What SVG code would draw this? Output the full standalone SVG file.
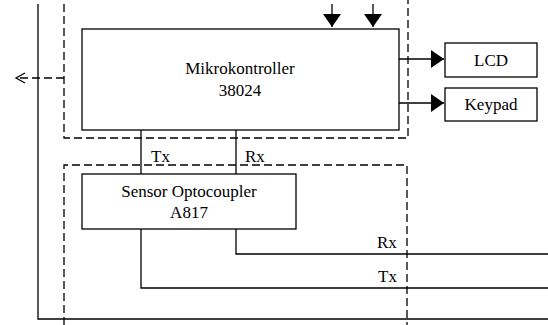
<svg xmlns="http://www.w3.org/2000/svg" width="548" height="325" viewBox="0 0 548 325">
<defs>
<style>
.box{fill:#fff;stroke:#000;stroke-width:1.3}
.ln{fill:none;stroke:#000;stroke-width:1.3}
.dash{fill:none;stroke:#000;stroke-width:1.3;stroke-dasharray:8 4}
text{font-family:'Liberation Serif','Times New Roman',serif;font-size:17px;fill:#000}
.t{text-anchor:middle}
</style>
<marker id="fa" markerWidth="14" markerHeight="20" refX="13" refY="10" orient="auto" markerUnits="userSpaceOnUse">
<path d="M0,1 L13,10 L0,19 Z" fill="#000"/>
</marker>
</defs>
<g id="frames">
<path class="dash" d="M64,4 V138 H408 V0"/>
<path class="dash" d="M64,325 V165 H407 V325"/>
</g>
<g id="connectors">
<path class="ln" d="M38,4 V319 H548"/>
<path class="dash" d="M64,78 H16"/>
<path class="ln" d="M25,73 L16,78 L25,83"/>
<path class="ln" d="M332,4 V27" marker-end="url(#fa)"/>
<path class="ln" d="M373,4 V27" marker-end="url(#fa)"/>
<path class="ln" d="M399,59 H444" marker-end="url(#fa)"/>
<path class="ln" d="M399,103 H444" marker-end="url(#fa)"/>
<path class="ln" d="M141,130 V174"/>
<path class="ln" d="M236,130 V174"/>
<path class="ln" d="M236,229 V254 H548"/>
<path class="ln" d="M141,229 V288 H548"/>
<text x="151" y="162">Tx</text>
<text x="245" y="162">Rx</text>
<text x="377" y="248">Rx</text>
<text x="378" y="282">Tx</text>
</g>
<g id="mikrokontroller">
<rect class="box" x="82" y="29" width="317" height="101"/>
<text class="t" x="240" y="74">Mikrokontroller</text>
<text class="t" x="240" y="96">38024</text>
</g>
<g id="lcd">
<rect class="box" x="445" y="43" width="92" height="34"/>
<text class="t" x="491" y="66">LCD</text>
</g>
<g id="keypad">
<rect class="box" x="445" y="88" width="92" height="33"/>
<text class="t" x="491" y="110">Keypad</text>
</g>
<g id="sensor">
<rect class="box" x="82" y="174" width="214" height="55"/>
<text class="t" x="189" y="197">Sensor Optocoupler</text>
<text class="t" x="189" y="218">A817</text>
</g>
</svg>
